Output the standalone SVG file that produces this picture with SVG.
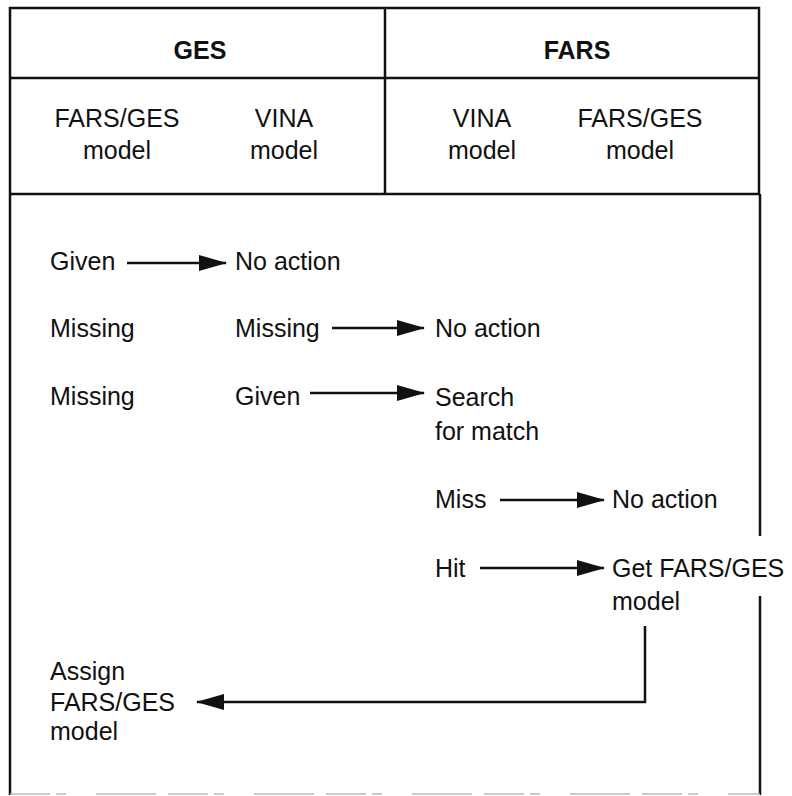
<svg xmlns="http://www.w3.org/2000/svg" width="792" height="796" viewBox="0 0 792 796">
<style>
text{font-family:"Liberation Sans",Arial,sans-serif;font-size:25px;fill:#111}
.b{font-weight:bold}
.m{text-anchor:middle}
.frame{stroke:#111;stroke-width:2.5;fill:none}
.c{stroke:#111;stroke-width:2.5;fill:none}
</style>
<defs>
<marker id="ah" markerWidth="28" markerHeight="16" refX="27" refY="8" orient="auto" markerUnits="userSpaceOnUse">
<path d="M0,0 L28,8 L0,16 Z" fill="#111"/>
</marker>
</defs>
<rect width="792" height="796" fill="#fff"/>
<g id="frame">
<path class="frame" d="M10,795 V8 H759 V194 M10,78 H759 M10,194 H759 M385,8 V194 M760,194 V536 M760,596 V795"/>
<line x1="10" y1="794" x2="760" y2="794" stroke="#bbb" stroke-width="1.5" stroke-dasharray="40 6 10 30 60 12"/>
</g>
<g id="header-ges"><text class="b m" x="200" y="59">GES</text></g>
<g id="header-fars"><text class="b m" x="577" y="59">FARS</text></g>
<g id="ges-fars-model"><text class="m" x="117" y="127">FARS/GES</text><text class="m" x="117" y="159">model</text></g>
<g id="ges-vina-model"><text class="m" x="284" y="127">VINA</text><text class="m" x="284" y="159">model</text></g>
<g id="fars-vina-model"><text class="m" x="482" y="127">VINA</text><text class="m" x="482" y="159">model</text></g>
<g id="fars-fars-model"><text class="m" x="640" y="127">FARS/GES</text><text class="m" x="640" y="159">model</text></g>
<g id="r1-given"><text x="50" y="270">Given</text></g>
<g id="r1-noaction"><text x="235" y="270">No action</text></g>
<g id="r2-missing-a"><text x="50" y="337">Missing</text></g>
<g id="r2-missing-b"><text x="235" y="337">Missing</text></g>
<g id="r2-noaction"><text x="435" y="337">No action</text></g>
<g id="r3-missing"><text x="50" y="405">Missing</text></g>
<g id="r3-given"><text x="235" y="405">Given</text></g>
<g id="r3-search"><text x="435" y="406">Search</text><text x="435" y="440">for match</text></g>
<g id="r4-miss"><text x="435" y="508">Miss</text></g>
<g id="r4-noaction"><text x="612" y="508">No action</text></g>
<g id="r5-hit"><text x="435" y="577">Hit</text></g>
<g id="r5-get"><text x="612" y="577">Get FARS/GES</text><text x="612" y="610">model</text></g>
<g id="assign"><text x="50" y="680">Assign</text><text x="50" y="711">FARS/GES</text><text x="50" y="740">model</text></g>
<g id="connectors">
<line class="c" x1="127" y1="263" x2="226" y2="263" marker-end="url(#ah)"/>
<line class="c" x1="332" y1="328" x2="424" y2="328" marker-end="url(#ah)"/>
<line class="c" x1="310" y1="393" x2="424" y2="393" marker-end="url(#ah)"/>
<line class="c" x1="500" y1="500" x2="604" y2="500" marker-end="url(#ah)"/>
<line class="c" x1="480" y1="568" x2="604" y2="568" marker-end="url(#ah)"/>
<polyline class="c" points="645,626 645,702 197,702" marker-end="url(#ah)"/>
</g>
</svg>
